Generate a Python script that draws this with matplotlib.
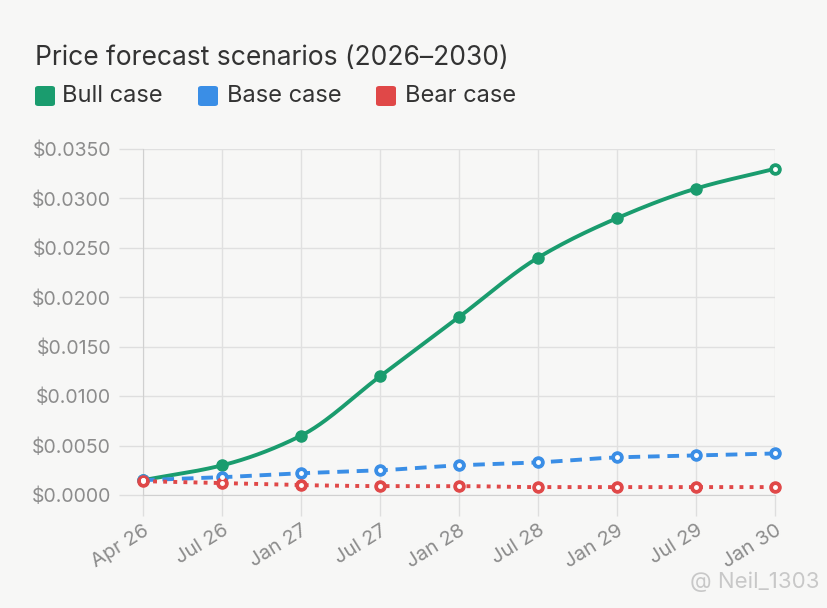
import numpy as np
import matplotlib
matplotlib.use("Agg")
import matplotlib.pyplot as plt
from matplotlib.patches import FancyBboxPatch

labels = ["Apr 26", "Jul 26", "Jan 27", "Jul 27", "Jan 28", "Jul 28", "Jan 29", "Jul 29", "Jan 30"]
bull = [0.0015, 0.0030, 0.0060, 0.0120, 0.0180, 0.0240, 0.0280, 0.0310, 0.0330]
base = [0.0015, 0.0018, 0.0022, 0.0025, 0.0030, 0.0033, 0.0038, 0.0040, 0.0042]
bear = [0.0014, 0.0012, 0.0010, 0.0009, 0.0009, 0.0008, 0.0008, 0.0008, 0.0008]
names = ["Bull case", "Base case", "Bear case"]
colors = ["#1a9c6e", "#3a8ee6", "#e04848"]

plt.rcParams['font.family'] = ['Inter', 'DejaVu Sans']


def monotone(x, y, n=30):
    # Fritsch-Carlson monotone cubic, only for drawing the smooth curve
    x = np.asarray(x, float)
    y = np.asarray(y, float)
    h = np.diff(x)
    d = np.diff(y) / h
    m = np.zeros_like(y)
    m[0], m[-1] = d[0], d[-1]
    for i in range(1, len(y) - 1):
        if d[i - 1] * d[i] <= 0:
            m[i] = 0
        else:
            m[i] = 3 * (h[i - 1] + h[i]) / ((2 * h[i] + h[i - 1]) / d[i - 1] + (h[i] + 2 * h[i - 1]) / d[i])
    xs, ys = [], []
    for i in range(len(x) - 1):
        t = np.linspace(0, 1, n)
        h00 = 2 * t**3 - 3 * t**2 + 1
        h10 = t**3 - 2 * t**2 + t
        h01 = -2 * t**3 + 3 * t**2
        h11 = t**3 - t**2
        xs.append(x[i] + t * h[i])
        ys.append(h00 * y[i] + h10 * h[i] * m[i] + h01 * y[i + 1] + h11 * h[i] * m[i + 1])
    return np.concatenate(xs), np.concatenate(ys)


bg = "#f7f7f6"
fig = plt.figure(figsize=(8.28, 6.08), dpi=100, facecolor=bg)
ax = fig.add_axes([143 / 828, 1 - 495 / 608, (775 - 143) / 828, (495 - 149) / 608])
ax.set_facecolor(bg)

x = np.arange(len(labels))
styles = ["-", (0, (3, 2)), (0, (1, 1.6))]
for k, (vals, c, ls) in enumerate(zip([bull, base, bear], colors, styles)):
    sx, sy = monotone(x, vals)
    ax.plot(sx, sy, color=c, lw=2.8, ls=ls, zorder=3, clip_on=False)
    ax.plot(x, vals, "o", color=c, ms=8, zorder=4, clip_on=False)
    # hollow centres on the end points (and on the smaller series)
    idx = [0, len(x) - 1] if k == 0 else list(range(len(x)))
    ax.plot(x[idx], np.asarray(vals)[idx], "o", color="white", ms=2.5, zorder=5, clip_on=False)

ax.set_xlim(0, len(labels) - 1)
ax.set_ylim(0, 0.035)
yt = np.arange(0, 0.0351, 0.005)
ax.set_yticks(yt)
ax.set_yticklabels(["$%.4f" % v for v in yt])
ax.set_xticks(x)
ax.set_xticklabels(labels, rotation=32, ha="right", rotation_mode="anchor")
ax.tick_params(colors="#dedede", labelcolor="#8c8c8c", labelsize=14, width=1)
ax.tick_params(axis="x", length=15, pad=4, labelsize=14.5)
ax.tick_params(axis="y", length=17, pad=6)
ax.grid(True, color="#e0e0e0", lw=1)
for s in ["top", "right"]:
    ax.spines[s].set_visible(False)
ax.spines["left"].set_color("#d0d0d0")
ax.spines["bottom"].set_color("#d0d0d0")
ax.set_axisbelow(True)

fig.text(35 / 828, 1 - 65 / 608, "Price forecast scenarios (2026\u20132030)", fontsize=19,
         color="#333333", va="baseline")
sq = [35, 198, 376]
tx = [62, 227, 405]
for name, c, px, tpx in zip(names, colors, sq, tx):
    fig.patches.append(FancyBboxPatch((px / 828, 1 - 106 / 608), 20 / 828, 20 / 608,
                                      boxstyle="round,pad=0,rounding_size=0.004",
                                      transform=fig.transFigure, fc=c, ec="none"))
    fig.text(tpx / 828, 1 - 96 / 608, name, fontsize=17, color="#333333", va="center")

fig.text(690 / 828, 1 - 582 / 608, "@ Neil_1303", fontsize=16, color="#c8c8c8", va="center")

fig.savefig("out.png", dpi=100, facecolor=fig.get_facecolor())
